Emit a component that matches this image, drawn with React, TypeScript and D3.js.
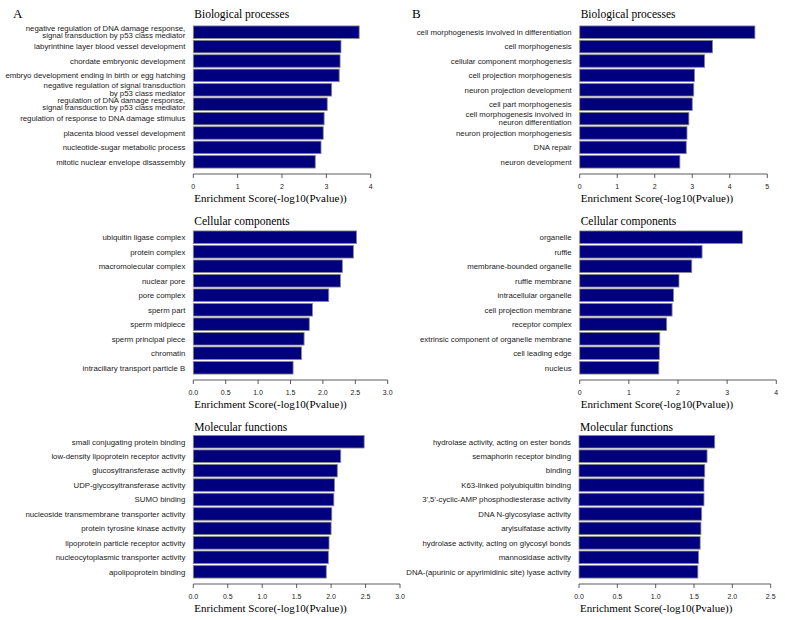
import React from 'react';
import * as d3 from 'd3';

// A: biological processes
const bpTermsA = [
  'negative regulation of DNA damage response,\nsignal transduction by p53 class mediator',
  'labyrinthine layer blood vessel development',
  'chordate embryonic development',
  'embryo development ending in birth or egg hatching',
  'negative regulation of signal transduction\nby p53 class mediator',
  'regulation of DNA damage response,\nsignal transduction by p53 class mediator',
  'regulation of response to DNA damage stimulus',
  'placenta blood vessel development',
  'nucleotide-sugar metabolic process',
  'mitotic nuclear envelope disassembly',
];
const bpScoresA = [3.74, 3.33, 3.31, 3.29, 3.12, 3.02, 2.95, 2.93, 2.88, 2.75];
const bpTicksA = [0, 1, 2, 3, 4];

const ccTermsA = [
  'ubiquitin ligase complex',
  'protein complex',
  'macromolecular complex',
  'nuclear pore',
  'pore complex',
  'sperm part',
  'sperm midpiece',
  'sperm principal piece',
  'chromatin',
  'intraciliary transport particle B',
];
const ccScoresA = [2.52, 2.47, 2.3, 2.27, 2.09, 1.84, 1.79, 1.71, 1.67, 1.54];
const ccTicksA = [0, 0.5, 1, 1.5, 2, 2.5, 3];

const mfTermsA = [
  'small conjugating protein binding',
  'low-density lipoprotein receptor activity',
  'glucosyltransferase activity',
  'UDP-glycosyltransferase activity',
  'SUMO binding',
  'nucleoside transmembrane transporter activity',
  'protein tyrosine kinase activity',
  'lipoprotein particle receptor activity',
  'nucleocytoplasmic transporter activity',
  'apolipoprotein binding',
];
const mfScoresA = [2.48, 2.14, 2.09, 2.05, 2.04, 2.01, 2.0, 1.97, 1.96, 1.93];
const mfTicksA = [0, 0.5, 1, 1.5, 2, 2.5, 3];

// B
const bpTermsB = [
  'cell morphogenesis involved in differentiation',
  'cell morphogenesis',
  'cellular component morphogenesis',
  'cell projection morphogenesis',
  'neuron projection development',
  'cell part morphogenesis',
  'cell morphogenesis involved in\nneuron differentiation',
  'neuron projection morphogenesis',
  'DNA repair',
  'neuron development',
];
const bpScoresB = [4.67, 3.54, 3.33, 3.06, 3.04, 3.0, 2.91, 2.86, 2.84, 2.67];
const bpTicksB = [0, 1, 2, 3, 4, 5];

const ccTermsB = [
  'organelle',
  'ruffle',
  'membrane-bounded organelle',
  'ruffle membrane',
  'intracellular organelle',
  'cell projection membrane',
  'receptor complex',
  'extrinsic component of organelle membrane',
  'cell leading edge',
  'nucleus',
];
const ccScoresB = [3.31, 2.49, 2.28, 2.02, 1.91, 1.88, 1.77, 1.63, 1.62, 1.61];
const ccTicksB = [0, 1, 2, 3, 4];

const mfTermsB = [
  'hydrolase activity, acting on ester bonds',
  'semaphorin receptor binding',
  'binding',
  'K63-linked polyubiquitin binding',
  "3',5'-cyclic-AMP phosphodiesterase activity",
  'DNA N-glycosylase activity',
  'arylsulfatase activity',
  'hydrolase activity, acting on glycosyl bonds',
  'mannosidase activity',
  'DNA-(apurinic or apyrimidinic site) lyase activity',
];
const mfScoresB = [1.77, 1.67, 1.64, 1.63, 1.63, 1.6, 1.59, 1.58, 1.56, 1.55];
const mfTicksB = [0, 0.5, 1, 1.5, 2, 2.5];

const sans = '"Liberation Sans", Arial, sans-serif';
const serif = '"Liberation Serif", "Times New Roman", serif';

type PanelProps = {
  title: string;
  terms: string[];
  scores: number[];
  ticks: number[];
  x0: number;
  x1: number;
  top: number;
  bottom: number;
  titleY: number;
  decimals: number;
};

const Panel = ({ title, terms, scores, ticks, x0, x1, top, bottom, titleY, decimals }: PanelProps) => {
  const xScale = d3.scaleLinear()
    .domain([0, ticks[ticks.length - 1]])
    .range([x0, x1]);
  const yScale = d3.scaleBand<number>()
    .domain(d3.range(terms.length))
    .range([top, bottom])
    .paddingInner(0.13)
    .paddingOuter(0.065);
  const axisY = bottom + 5;
  const fmt = d3.format(decimals ? '.1f' : 'd');

  return (
    <g>
      <text x={x0 + 1} y={titleY} fontFamily={serif} fontSize={11.5}>{title}</text>
      {scores.map((d, i) => (
        <rect
          key={i}
          x={xScale(0)}
          y={yScale(i)}
          width={xScale(d) - xScale(0)}
          height={yScale.bandwidth()}
          fill="#00007f"
          stroke="#8a8a8a"
          strokeWidth={0.8}
        />
      ))}
      {terms.map((t, i) => {
        const lines = t.split('\n');
        const cy = (yScale(i) as number) + yScale.bandwidth() / 2;
        const lh = 7.6;
        return (
          <text key={i} x={x0 - 8} textAnchor="end" fontFamily={sans} fontSize={7.8} fill="#1a1a1a">
            {lines.map((l, j) => (
              <tspan key={j} x={x0 - 8} y={cy + 2.8 + (j - (lines.length - 1) / 2) * lh - (lines.length > 1 ? 0.5 : 0)}>{l}</tspan>
            ))}
          </text>
        );
      })}
      <line x1={xScale(0)} x2={xScale(ticks[ticks.length - 1])} y1={axisY} y2={axisY} stroke="#333" strokeWidth={0.8} />
      {ticks.map((t) => (
        <g key={t}>
          <line x1={xScale(t)} x2={xScale(t)} y1={axisY} y2={axisY + 4} stroke="#333" strokeWidth={0.8} />
          <text x={xScale(t)} y={axisY + 15} textAnchor="middle" fontFamily={sans} fontSize={7} fill="#1a1a1a">{fmt(t)}</text>
        </g>
      ))}
      <text x={x0 + 1} y={axisY + 28} fontFamily={serif} fontSize={11}>Enrichment Score(-log10(Pvalue))</text>
    </g>
  );
};

const rows = [
  { top: 25, bottom: 169, titleY: 17.5 },
  { top: 230, bottom: 375, titleY: 225 },
  { top: 434.5, bottom: 579, titleY: 430.5 },
];

const App = () => (
  <svg width={787} height={620} style={{ position: 'absolute', left: 0, top: 0, background: '#fff' }}>
    <text x={13} y={17.5} fontFamily={serif} fontSize={13}>A</text>
    <text x={412} y={17.5} fontFamily={serif} fontSize={13}>B</text>
    <Panel title="Biological processes" terms={bpTermsA} scores={bpScoresA} ticks={bpTicksA} x0={193.3} x1={370.7} decimals={0} {...rows[0]} />
    <Panel title="Cellular components" terms={ccTermsA} scores={ccScoresA} ticks={ccTicksA} x0={193.3} x1={387.7} decimals={1} {...rows[1]} />
    <Panel title="Molecular functions" terms={mfTermsA} scores={mfScoresA} ticks={mfTicksA} x0={193.3} x1={400} decimals={1} {...rows[2]} />
    <Panel title="Biological processes" terms={bpTermsB} scores={bpScoresB} ticks={bpTicksB} x0={579.7} x1={767.3} decimals={0} {...rows[0]} />
    <Panel title="Cellular components" terms={ccTermsB} scores={ccScoresB} ticks={ccTicksB} x0={579.7} x1={776.3} decimals={0} {...rows[1]} />
    <Panel title="Molecular functions" terms={mfTermsB} scores={mfScoresB} ticks={mfTicksB} x0={579} x1={770.7} decimals={1} {...rows[2]} />
  </svg>
);

export default App;
